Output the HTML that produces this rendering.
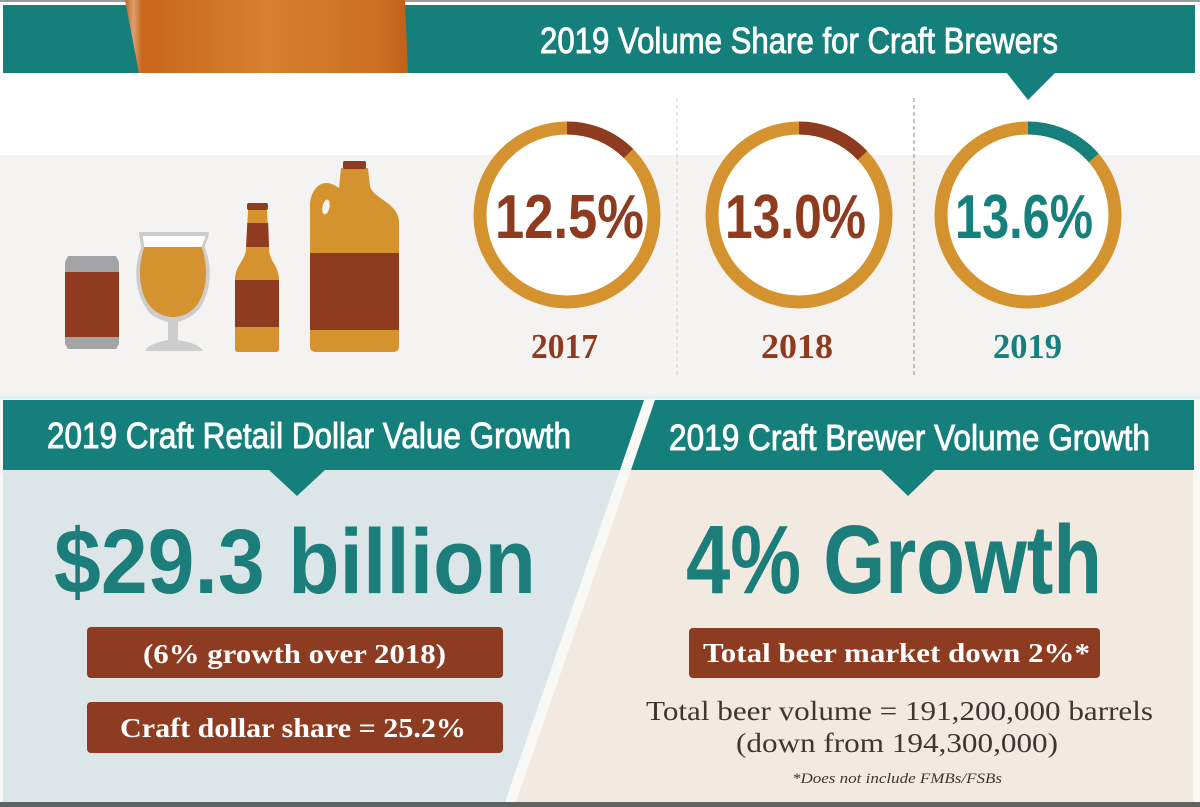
<!DOCTYPE html>
<html><head><meta charset="utf-8"><style>
html,body{margin:0;padding:0;background:#fff;}
svg{display:block;}
</style></head><body>
<svg width="1200" height="807" viewBox="0 0 1200 807" xmlns="http://www.w3.org/2000/svg">
<defs>
<linearGradient id="beer" x1="0" x2="1" y1="0" y2="0">
<stop offset="0" stop-color="#c4651c"/>
<stop offset="0.03" stop-color="#dca070"/>
<stop offset="0.06" stop-color="#c8661c"/>
<stop offset="0.5" stop-color="#d5802e"/>
<stop offset="0.9" stop-color="#cc6f23"/>
<stop offset="1" stop-color="#c0601a"/>
</linearGradient>
</defs>
<!-- backgrounds -->
<rect x="0" y="0" width="1200" height="807" fill="#ffffff"/>
<rect x="0" y="0" width="1200" height="2" fill="#9c9c9c"/>
<rect x="0" y="155" width="1200" height="242" fill="#f4f3f2"/>
<rect x="0" y="396" width="1200" height="3" fill="#e3eff1"/>
<!-- top teal band -->
<rect x="3" y="5" width="1192" height="68" fill="#157f7c"/>
<polygon points="1006,72 1056,72 1028,100" fill="#157f7c"/>
<!-- beer glass photo -->
<polygon points="125,0 405,0 408,73 139,73" fill="url(#beer)"/>
<text x="540" y="53" font-family="Liberation Sans, sans-serif" font-size="36" fill="#ffffff" stroke="#ffffff" stroke-width="0.9" textLength="518" lengthAdjust="spacingAndGlyphs">2019 Volume Share for Craft Brewers</text>

<!-- dashed separators -->
<line x1="677" y1="98" x2="677" y2="375" stroke="#cfcfcf" stroke-width="1" stroke-dasharray="4,3"/>
<line x1="914" y1="98" x2="914" y2="375" stroke="#8a8a8a" stroke-width="1" stroke-dasharray="4,3"/>

<!-- circles -->
<g>
<circle cx="567" cy="215" r="87" fill="#ffffff" stroke="#d5932f" stroke-width="13"/>
<circle cx="567" cy="215" r="87" fill="none" stroke="#8e3b1f" stroke-width="13" stroke-dasharray="68.3 600" transform="rotate(-90 567 215)"/>
<text x="495" y="238" font-family="Liberation Sans, sans-serif" font-weight="bold" font-size="62" fill="#8e3b1f" textLength="149" lengthAdjust="spacingAndGlyphs">12.5%</text>
<text x="531" y="358" font-family="Liberation Serif, serif" font-weight="bold" font-size="35" fill="#8e3b1f" textLength="67" lengthAdjust="spacingAndGlyphs">2017</text>
</g>
<g>
<circle cx="799" cy="215" r="87" fill="#ffffff" stroke="#d5932f" stroke-width="13"/>
<circle cx="799" cy="215" r="87" fill="none" stroke="#8e3b1f" stroke-width="13" stroke-dasharray="71.1 600" transform="rotate(-90 799 215)"/>
<text x="725" y="238" font-family="Liberation Sans, sans-serif" font-weight="bold" font-size="62" fill="#8e3b1f" textLength="141" lengthAdjust="spacingAndGlyphs">13.0%</text>
<text x="761" y="358" font-family="Liberation Serif, serif" font-weight="bold" font-size="35" fill="#8e3b1f" textLength="72" lengthAdjust="spacingAndGlyphs">2018</text>
</g>
<g>
<circle cx="1028" cy="215" r="87" fill="#ffffff" stroke="#d5932f" stroke-width="13"/>
<circle cx="1028" cy="215" r="87" fill="none" stroke="#15807c" stroke-width="13" stroke-dasharray="74.3 600" transform="rotate(-90 1028 215)"/>
<text x="955" y="238" font-family="Liberation Sans, sans-serif" font-weight="bold" font-size="62" fill="#15807c" textLength="138" lengthAdjust="spacingAndGlyphs">13.6%</text>
<text x="993" y="358" font-family="Liberation Serif, serif" font-weight="bold" font-size="35" fill="#15807c" textLength="69" lengthAdjust="spacingAndGlyphs">2019</text>
</g>

<!-- icons: can -->
<path d="M68,256 L116,256 L119,262 L119,272 L65,272 L65,262 Z" fill="#a3a4a6"/>
<rect x="65" y="272" width="54" height="65" fill="#8e3b1f"/>
<path d="M65,337 L119,337 L119,344 L116,349 L68,349 L65,344 Z" fill="#a3a4a6"/>
<!-- tulip glass -->
<path d="M139,232 L209,232 C209,238 205,242 205,248 C212,265 212,290 200,308 C194,316 184,320 178,322 L178,340 C190,342 200,345 203,351 L145,351 C148,345 158,342 168,340 L168,322 C160,320 150,316 146,308 C134,290 134,265 141,248 C141,242 139,238 139,232 Z" fill="#cdcdcd"/>
<path d="M143,236 L205,236 C205,240 202,244 202,248 C208,265 208,290 197,305 C190,314 180,317 173,317 C166,317 156,314 149,305 C138,290 138,265 144,248 C144,244 143,240 143,236 Z" fill="#d5932f"/>
<path d="M143,236 L205,236 C205,240 202,244 202,247 L144,247 C144,244 143,240 143,236 Z" fill="#ffffff"/>
<!-- bottle -->
<path d="M248,210 L267,210 L269,250 C270,262 279,266 279,280 L279,349 Q279,352 276,352 L238,352 Q235,352 235,349 L235,280 C235,266 244,262 246,250 Z" fill="#d5932f"/>
<rect x="247" y="203" width="21" height="7" rx="2" fill="#8e3b1f"/>
<polygon points="247.3,223 268.2,223 269,247 246.1,247" fill="#8e3b1f"/>
<rect x="235" y="280" width="44" height="47" fill="#8e3b1f"/>
<!-- growler -->
<path d="M341,168 L368,168 L370,186 C372,198 399,203 399,222 L399,346 Q399,352 393,352 L316,352 Q310,352 310,346 L310,206 C310,192 318,183 326,183 C332,183 336,186 339,188 Z" fill="#d5932f"/>
<rect x="343" y="161" width="23" height="8" rx="2" fill="#8e3b1f"/>
<ellipse cx="326" cy="207" rx="3.5" ry="7.5" transform="rotate(12 326 207)" fill="#f4f3f2"/>
<rect x="310" y="253" width="89" height="77" fill="#8e3b1f"/>

<!-- bottom section -->
<rect x="0" y="399" width="1200" height="404" fill="#f8f8f6"/>
<polygon points="3,470 620,470 505,802 3,802" fill="#dce6e9"/>
<polygon points="631,470 1193,470 1193,802 516,802" fill="#f2eae1"/>
<polygon points="3,400 644,400 620,470 3,470" fill="#157f7c"/>
<polygon points="655,400 1194,400 1194,470 631,470" fill="#157f7c"/>
<polygon points="268,469 326,469 297,496" fill="#157f7c"/>
<polygon points="880,469 936,469 908,496" fill="#157f7c"/>
<rect x="0" y="802" width="1200" height="5" fill="#5e6464"/>

<text x="47" y="448" font-family="Liberation Sans, sans-serif" font-size="36" fill="#ffffff" stroke="#ffffff" stroke-width="0.9" textLength="524" lengthAdjust="spacingAndGlyphs">2019 Craft Retail Dollar Value Growth</text>
<text x="669" y="450" font-family="Liberation Sans, sans-serif" font-size="36" fill="#ffffff" stroke="#ffffff" stroke-width="0.9" textLength="481" lengthAdjust="spacingAndGlyphs">2019 Craft Brewer Volume Growth</text>

<text x="54" y="593" font-family="Liberation Sans, sans-serif" font-weight="bold" font-size="92" fill="#1b7e7a" textLength="482" lengthAdjust="spacingAndGlyphs">$29.3 billion</text>
<text x="686" y="593" font-family="Liberation Sans, sans-serif" font-weight="bold" font-size="97" fill="#1b7e7a" textLength="416" lengthAdjust="spacingAndGlyphs">4% Growth</text>

<rect x="87" y="627" width="416" height="51" rx="4" fill="#8e3c21"/>
<rect x="87" y="702" width="416" height="51" rx="4" fill="#8e3c21"/>
<rect x="689" y="628" width="411" height="50" rx="4" fill="#8e3c21"/>

<text x="143" y="663" font-family="Liberation Serif, serif" font-weight="bold" font-size="27" fill="#ffffff" textLength="303" lengthAdjust="spacingAndGlyphs">(6% growth over 2018)</text>
<text x="120" y="737" font-family="Liberation Serif, serif" font-weight="bold" font-size="27" fill="#ffffff" textLength="346" lengthAdjust="spacingAndGlyphs">Craft dollar share = 25.2%</text>
<text x="703" y="662" font-family="Liberation Serif, serif" font-weight="bold" font-size="27" fill="#ffffff" textLength="387" lengthAdjust="spacingAndGlyphs">Total beer market down 2%*</text>

<text x="646" y="720" font-family="Liberation Serif, serif" font-size="27" fill="#3d3631" textLength="507" lengthAdjust="spacingAndGlyphs">Total beer volume = 191,200,000 barrels</text>
<text x="736" y="752" font-family="Liberation Serif, serif" font-size="27" fill="#3d3631" textLength="322" lengthAdjust="spacingAndGlyphs">(down from 194,300,000)</text>
<text x="792" y="783" font-family="Liberation Serif, serif" font-style="italic" font-size="15" fill="#3d3631" textLength="210" lengthAdjust="spacingAndGlyphs">*Does not include FMBs/FSBs</text>
</svg>
</body></html>
